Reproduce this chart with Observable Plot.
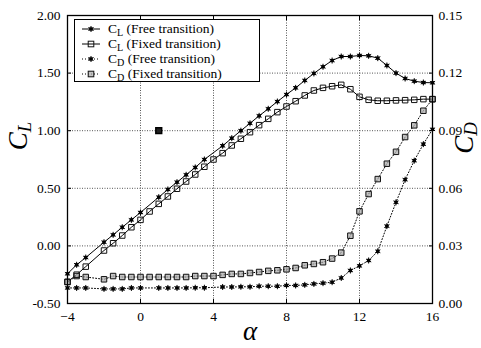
<!DOCTYPE html>
<html><head><meta charset="utf-8">
<script src="https://cdn.jsdelivr.net/npm/d3@7"></script>
<script src="https://cdn.jsdelivr.net/npm/@observablehq/plot@0.6"></script>
<style>
body{margin:0;background:#fff;}
#wrap{position:relative;width:481px;height:348px;font-family:"Liberation Serif","DejaVu Serif",serif;color:#000;}
#wrap svg.plot{position:absolute;left:0;top:0;}
#wrap svg.plot text{font-family:"Liberation Serif","DejaVu Serif",serif;}
.ttl{position:absolute;font-style:italic;white-space:nowrap;line-height:1;}
.ttl sub{font-size:0.7em;vertical-align:-0.25em;}
#legend{position:absolute;left:74px;top:19px;width:186px;height:63px;border:1px solid #000;background:#fff;box-sizing:border-box;font-size:13.5px;}
#legend .row{position:absolute;left:0;height:15px;display:flex;align-items:center;}
#legend .row span{margin-left:8px;white-space:nowrap;}
#legend sub{font-size:0.75em;vertical-align:-0.3em;line-height:0;}
</style>
</head><body>
<div id="wrap"></div>
<script>
// ---- data ----
const alpha = [-4,-3.5,-3,-2.5,-2,-1.5,-1,-0.5,0,0.5,1,1.5,2,2.5,3,3.5,4,4.5,5,5.5,6,6.5,7,7.5,8,8.5,9,9.5,10,10.5,11,11.5,12,12.5,13,13.5,14,14.5,15,15.5,16];
const clFree = [-0.242,-0.164,-0.101,null,0.032,0.096,0.162,0.226,0.290,null,0.423,0.490,0.553,0.617,0.681,0.750,null,0.869,0.935,1.000,1.064,1.129,1.190,1.253,1.314,1.372,1.436,1.497,1.555,1.609,1.644,1.644,1.653,1.650,1.630,1.566,1.500,1.453,1.430,1.418,1.416];
const clFixed = [-0.312,-0.250,-0.180,null,-0.040,0.023,0.090,0.162,0.226,0.299,0.365,0.429,0.496,0.559,0.620,0.687,0.750,0.805,0.872,0.930,0.987,1.048,1.103,1.161,1.210,1.256,1.306,1.349,1.372,1.386,1.398,1.360,1.294,1.268,1.260,1.260,1.263,1.265,1.268,1.274,1.274];
const cdFree = [0.0081,0.0081,0.0081,null,0.0076,0.0076,0.0076,0.0081,0.0081,null,0.0081,0.0081,0.0081,0.0081,0.0082,0.0082,null,0.0086,0.0086,0.0087,0.0087,0.0090,0.0090,0.0090,0.0094,0.0094,0.0097,0.0102,0.0106,0.0111,0.0133,0.0172,0.0196,0.0224,0.0272,0.0403,0.0527,0.0645,0.0744,0.0830,0.0907];
const cdFixed = [0.0112,0.0143,0.0138,null,0.0126,0.0143,0.0138,0.0138,0.0138,0.0138,0.0138,0.0138,0.0138,0.0138,0.0143,0.0143,0.0143,0.0149,0.0154,0.0154,0.0159,0.0164,0.0170,0.0173,0.0178,0.0185,0.0199,0.0206,0.0215,0.0234,0.0265,0.0353,0.0480,0.0570,0.0648,0.0728,0.0790,0.0867,0.0928,0.1004,0.1064];
const strayAlpha = [1];
const strayCL = [1.0];
const xTicks = [-4,0,4,8,12,16];
const clTicks = [-0.5,0,0.5,1.0,1.5,2.0];
const cdTicks = [0,0.03,0.06,0.09,0.12,0.15];
const xDomain = [-4,16];
const clDomain = [-0.5,2.0];
const cdDomain = [0,0.15];
const legendLabels = ["C<sub>L</sub> (Free transition)","C<sub>L</sub> (Fixed transition)","C<sub>D</sub> (Free transition)","C<sub>D</sub> (Fixed transition)"];

// ---- build ----
const cdToCl = d => clDomain[0] + (d - cdDomain[0]) / (cdDomain[1] - cdDomain[0]) * (clDomain[1] - clDomain[0]);
const rows = (vals, conv = v => v) => alpha.map((a, i) => ({a, v: vals[i] == null ? null : conv(vals[i])})).filter(d => d.v != null);
const sClFree = rows(clFree), sClFixed = rows(clFixed);
const sCdFree = rows(cdFree, cdToCl), sCdFixed = rows(cdFixed, cdToCl);
const stray = strayAlpha.map((a, i) => ({a, v: strayCL[i]}));
const cdTickPos = cdTicks.map(cdToCl);
const fmtCd = new Map(cdTickPos.map((p, i) => [p.toFixed(6), cdTicks[i].toFixed(2)]));
const grid = {stroke: "#555", strokeOpacity: 1, strokeWidth: 1, strokeDasharray: "1,1.5"};

const filledMarks = (data) => [
  Plot.dot(data, {x: "a", y: "v", symbol: "asterisk", r: 2.8, stroke: "#000", strokeWidth: 1}),
  Plot.dot(data, {x: "a", y: "v", symbol: "square", r: 1.9, fill: "#000", stroke: "none"})
];

const chart = Plot.plot({
  width: 481, height: 348,
  marginLeft: 67, marginRight: 49, marginTop: 15, marginBottom: 45,
  style: {fontFamily: "Liberation Serif, DejaVu Serif, serif", fontSize: "13.5px", background: "transparent", color: "#000"},
  x: {domain: xDomain},
  y: {domain: clDomain},
  marks: [
    Plot.gridX(xTicks.slice(1, -1), grid),
    Plot.gridY(clTicks.slice(1, -1), grid),
    Plot.line(sCdFree, {x: "a", y: "v", stroke: "#000", strokeWidth: 1, strokeDasharray: "1,2"}),
    Plot.line(sCdFixed, {x: "a", y: "v", stroke: "#000", strokeWidth: 1, strokeDasharray: "1,2"}),
    Plot.line(sClFree, {x: "a", y: "v", stroke: "#000", strokeWidth: 1}),
    Plot.line(sClFixed, {x: "a", y: "v", stroke: "#000", strokeWidth: 1}),
    ...filledMarks(sCdFree),
    Plot.dot(sCdFixed, {x: "a", y: "v", symbol: "square", r: 3.1, fill: "#aaa", fillOpacity: 0.7, stroke: "#111", strokeWidth: 1}),
    ...filledMarks(sClFree),
    Plot.dot(sClFixed, {x: "a", y: "v", symbol: "square", r: 3.1, fill: "none", stroke: "#111", strokeWidth: 1}),
    Plot.dot(stray, {x: "a", y: "v", symbol: "square", r: 3.3, fill: "#222", stroke: "#000"}),
    Plot.frame({stroke: "#000", strokeWidth: 1.3}),
    Plot.axisX(xTicks, {anchor: "bottom", tickSize: 0, tickPadding: 8, label: null}),
    Plot.axisX(xTicks, {anchor: "bottom", tickSize: -4, tickFormat: () => "", label: null}),
    Plot.axisX(xTicks, {anchor: "top", tickSize: -4, tickFormat: () => "", label: null}),
    Plot.axisY(clTicks, {anchor: "left", tickSize: 0, tickPadding: 7, tickFormat: d => d.toFixed(2), label: null}),
    Plot.axisY(clTicks, {anchor: "left", tickSize: -4, tickFormat: () => "", label: null}),
    Plot.axisY(cdTickPos, {anchor: "right", tickSize: 0, tickPadding: 6, tickFormat: d => fmtCd.get(d.toFixed(6)), label: null}),
    Plot.axisY(cdTickPos, {anchor: "right", tickSize: -4, tickFormat: () => "", label: null})
  ]
});
chart.classList.add("plot");
const wrap = document.getElementById("wrap");
wrap.appendChild(chart);

// axis titles
function addTitle(html, x, y, size, rot) {
  const d = document.createElement("div");
  d.className = "ttl";
  d.innerHTML = html;
  d.style.fontSize = size + "px";
  d.style.left = x + "px"; d.style.top = y + "px";
  d.style.transform = "translate(-50%,-50%)" + (rot ? " rotate(-90deg)" : "");
  wrap.appendChild(d);
}
addTitle("C<sub>L</sub>", 20, 136, 27, true);
addTitle("C<sub>D</sub>", 466, 138, 27, true);
addTitle("&alpha;", 250, 331, 27, false);

// legend
const lg = document.createElement("div");
lg.id = "legend";
const symSvg = (i) => {
  const dash = i >= 2 ? 'stroke-dasharray="1,2"' : '';
  let m;
  if (i === 0 || i === 2) {
    m = '<path d="M9,6V12M6.4,7.5L11.6,10.5M6.4,10.5L11.6,7.5" stroke="#000" stroke-width="1"/><rect x="7.3" y="7.3" width="3.4" height="3.4" fill="#000"/>';
  } else if (i === 1) {
    m = '<rect x="6.2" y="6.2" width="5.6" height="5.6" fill="none" stroke="#111"/>';
  } else {
    m = '<rect x="6.2" y="6.2" width="5.6" height="5.6" fill="#aaa" fill-opacity="0.7" stroke="#111"/>';
  }
  return `<svg width="18" height="18" style="overflow:visible"><line x1="0" x2="18" y1="9" y2="9" stroke="#000" ${dash}/>${m}</svg>`;
};
legendLabels.forEach((t, i) => {
  const r = document.createElement("div");
  r.className = "row";
  r.style.top = (1 + i * 15) + "px";
  r.style.left = "7px";
  r.innerHTML = symSvg(i) + `<span>${t}</span>`;
  lg.appendChild(r);
});
wrap.appendChild(lg);
</script>
</body></html>
